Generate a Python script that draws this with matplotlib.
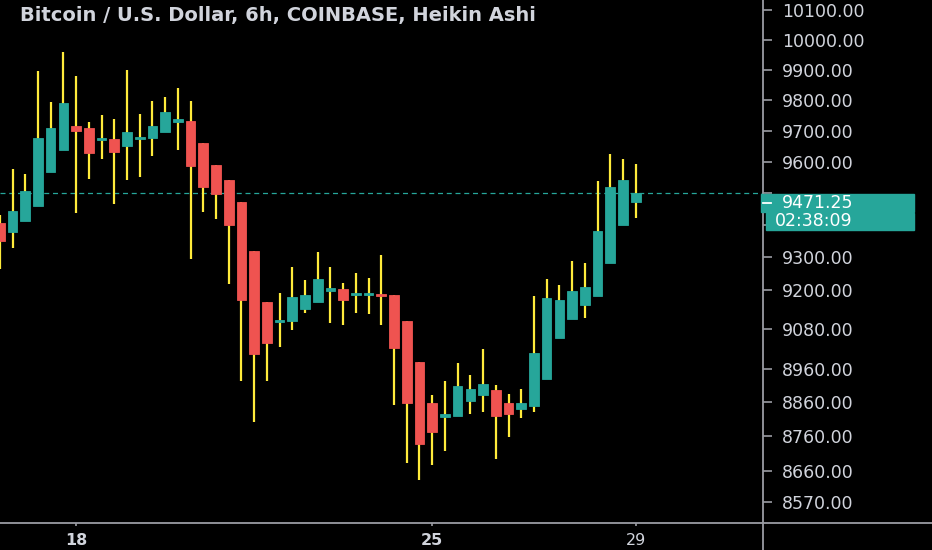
import matplotlib.pyplot as plt
from matplotlib.patches import Rectangle
from matplotlib.lines import Line2D
from matplotlib.ticker import NullLocator, NullFormatter

# Heikin Ashi candles, BTC/USD 6h, first one is cut off at the left edge
opens = [9408, 9379, 9412, 9460, 9569, 9640, 9716, 9710, 9670, 9673,
         9653, 9675, 9678, 9698, 9731, 9732, 9661, 9592, 9544, 9472,
         9320, 9161, 9102, 9103, 9140, 9161, 9195, 9201, 9184, 9184,
         9185, 9182, 9103, 8980, 8859, 8817, 8819, 8864, 8882, 8897,
         8859, 8841, 8850, 8930, 9053, 9110, 9154, 9181, 9282, 9401, 9473]
highs = [9432, 9578, 9562, 9897, 9795, 9959, 9881, 9729, 9751, 9738,
         9899, 9756, 9798, 9811, 9840, 9799, 9661, 9592, 9544, 9472,
         9320, 9161, 9188, 9269, 9229, 9315, 9271, 9221, 9250, 9237,
         9307, 9182, 9103, 8980, 8881, 8923, 8977, 8941, 9018, 8911,
         8884, 8899, 9179, 9232, 9213, 9289, 9283, 9540, 9627, 9610, 9593]
lows = [9263, 9327, 9412, 9460, 9569, 9640, 9439, 9545, 9609, 9466,
        9542, 9552, 9621, 9698, 9640, 9295, 9440, 9419, 9216, 8923,
        8801, 8924, 9026, 9076, 9129, 9161, 9098, 9091, 9129, 9124,
        9091, 8851, 8682, 8633, 8675, 8718, 8819, 8825, 8830, 8695,
        8759, 8813, 8832, 8930, 9053, 9110, 9112, 9181, 9282, 9401, 9421]
closes = [9351, 9445, 9508, 9679, 9710, 9792, 9700, 9630, 9678, 9631,
          9697, 9681, 9716, 9762, 9738, 9589, 9521, 9499, 9400, 9168,
          9004, 9038, 9106, 9177, 9182, 9232, 9204, 9168, 9188, 9188,
          9179, 9023, 8857, 8738, 8773, 8824, 8908, 8900, 8914, 8821,
          8824, 8858, 9008, 9175, 9168, 9195, 9207, 9383, 9521, 9543, 9500]

price_ticks = [10100, 10000, 9900, 9800, 9700, 9600, 9500, 9400, 9300,
               9200, 9080, 8960, 8860, 8760, 8660, 8570]
hidden_ticks = [9500, 9400]  # covered by the price / countdown labels
day_pos = [5, 33, 49]
day_labels = ['18', '25', '29']
day_bold = [True, True, False]

last_price = 9471.25
line_price = 9500
countdown = '02:38:09'
title = 'Bitcoin / U.S. Dollar, 6h, COINBASE, Heikin Ashi'

up = '#26a69a'
down = '#ef5350'
wick = '#ffeb3b'
txt = '#d1d4dc'
axis_c = '#9a9ca3'

W, H = 932, 550
fig = plt.figure(figsize=(W / 100, H / 100), dpi=100, facecolor='black')
ax = fig.add_axes([0, 27 / H, 763 / W, 523 / H])
ax.set_facecolor('black')
ax.set_yscale('log')

x = [i - 1 for i in range(len(opens))]
colors = [up if c >= o else down for o, c in zip(opens, closes)]
ax.vlines(x, lows, highs, color=wick, lw=1.6, zorder=2)
ax.bar(x, [abs(c - o) for o, c in zip(opens, closes)],
       bottom=[min(o, c) for o, c in zip(opens, closes)],
       width=0.76, color=colors, edgecolor=colors, lw=0.6, zorder=3)

ax.axhline(line_price, color=up, lw=0.9, ls=(0, (4, 3)), zorder=1)

ax.set_xlim(-0.983, 59.01)
ax.set_ylim(8510, 10134)

for s in ax.spines.values():
    s.set_visible(False)

ax.yaxis.tick_right()
ax.set_yticks(price_ticks)
ax.set_yticklabels(['' if v in hidden_ticks else f'{v:.2f}' for v in price_ticks])
ax.yaxis.set_minor_locator(NullLocator())
ax.yaxis.set_minor_formatter(NullFormatter())
ax.tick_params(axis='y', colors=axis_c, labelcolor=txt, length=6.5,
               width=1.2, pad=7, labelsize=12.5)

ax.set_xticks(day_pos)
ax.set_xticklabels(day_labels)
ax.tick_params(axis='x', colors=axis_c, labelcolor=txt, length=2.5,
               width=1.2, pad=5, labelsize=11.5)
for lab, b in zip(ax.get_xticklabels(), day_bold):
    lab.set_fontweight('bold' if b else 'normal')

# frame lines of the price / time scales
fig.add_artist(Line2D([763 / W, 763 / W], [0, 1], color=axis_c, lw=1.3))
fig.add_artist(Line2D([0, 1], [27 / H, 27 / H], color=axis_c, lw=1.3))

fig.text(20 / W, 1 - 16 / H, title, color=txt, fontsize=14, fontweight='bold',
         va='center', ha='left')

# last price label and countdown
fig.canvas.draw()
yc = ax.transData.transform((0, last_price))[1] / H
bh = 18 / H
fig.add_artist(Rectangle((761 / W, yc - bh / 2), 153 / W, bh, color=up,
                         transform=fig.transFigure, zorder=5))
fig.add_artist(Line2D([763 / W, 771 / W], [yc, yc], color='white', lw=1.3,
                      zorder=6))
fig.text(782 / W, yc, f'{last_price:.2f}', color='white', fontsize=12.5,
         va='center', ha='left', zorder=6)
fig.add_artist(Rectangle((766 / W, yc - bh / 2 - 18 / H), 148 / W, 17 / H,
                         color=up, transform=fig.transFigure, zorder=5))
fig.text(775 / W, yc - bh / 2 - 9.5 / H, countdown, color='white', fontsize=12.5,
         va='center', ha='left', zorder=6)

fig.savefig('out.png', dpi=100, facecolor='black')
